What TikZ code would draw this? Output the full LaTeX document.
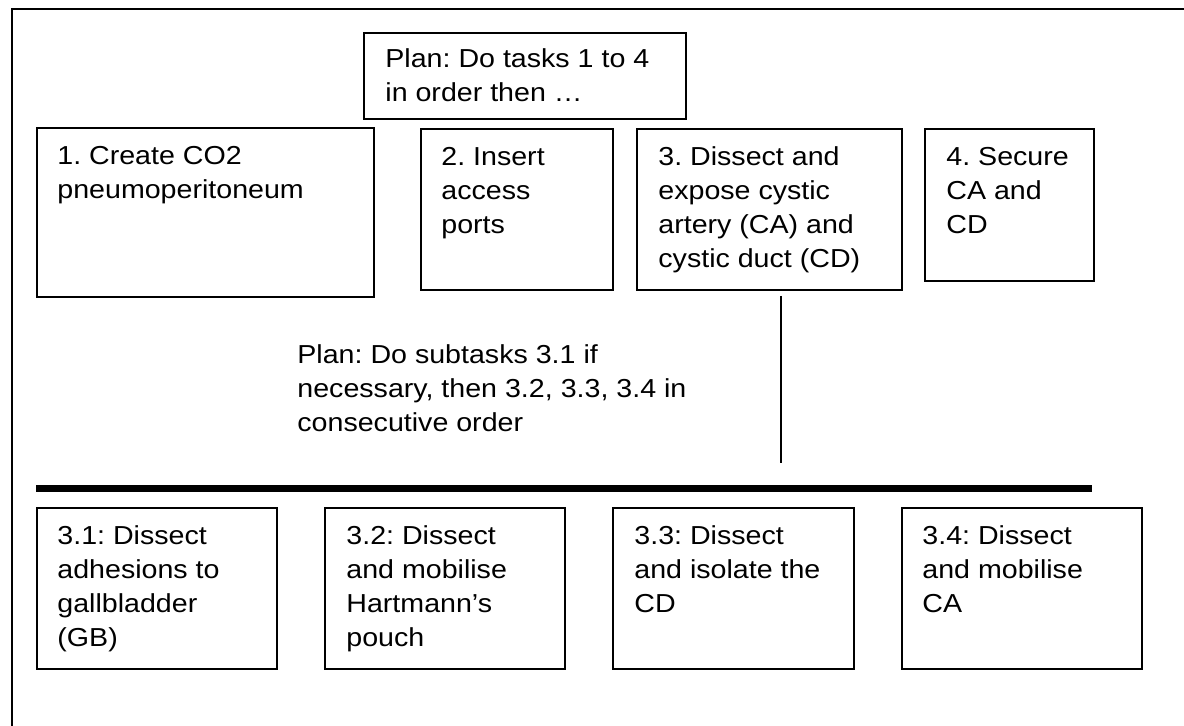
\documentclass[tikz,border=0pt]{standalone}
\usepackage{fontspec}
\setmainfont{Liberation Sans}[FakeStretch=1.1]
\usetikzlibrary{calc}
\newcommand{\txtlines}[1]{\begin{tabular}[t]{@{}l@{}}#1\end{tabular}}
\frenchspacing
\begin{document}
\begin{tikzpicture}[x=0.5pt,y=-0.5pt,
  box/.style={draw, line width=1pt, inner sep=0pt, anchor=north west},
  txt/.style={inner sep=0pt, anchor=base west, font=\fontsize{13pt}{17pt}\selectfont},
  rule/.style={line width=1pt},
  bar/.style={line width=3.5pt}]
\useasboundingbox (0,0) rectangle (1184,726);
% outer frame (top and left edges visible)
\coordinate (frameTR) at (1184,9);
\coordinate (frameTL) at (12,9);
\coordinate (frameBL) at (12,726);
\draw[rule] (frameTR) -- (frameTL) -- (frameBL);

% top plan
\node[box, minimum width=161pt, minimum height=43pt] (plan) at (363,32) {};
\node[txt] (plantxt) at ($(plan.north west)+(22,36)$) {\txtlines{Plan: Do tasks 1 to 4\\in order then …}};

% tasks
\node[box, minimum width=168.5pt, minimum height=84.5pt] (b1) at (36,127) {};
\node[txt] (b1txt) at ($(b1.north west)+(21,38)$) {\txtlines{1. Create CO2\\pneumoperitoneum}};
\node[box, minimum width=96pt, minimum height=80.5pt] (b2) at (420,128) {};
\node[txt] (b2txt) at ($(b2.north west)+(21,38)$) {\txtlines{2. Insert\\access\\ports}};
\node[box, minimum width=132.5pt, minimum height=80.5pt] (b3) at (636,128) {};
\node[txt] (b3txt) at ($(b3.north west)+(22,38)$) {\txtlines{3. Dissect and\\expose cystic\\artery (CA) and\\cystic duct (CD)}};
\node[box, minimum width=84.5pt, minimum height=76pt] (b4) at (924,128) {};
\node[txt] (b4txt) at ($(b4.north west)+(22,38)$) {\txtlines{4. Secure\\CA and\\CD}};

% sub-plan
\node[txt] (plan2) at (297,364) {\txtlines{Plan: Do subtasks 3.1 if\\necessary, then 3.2, 3.3, 3.4 in\\consecutive order}};

% connector
\coordinate (vtop) at ($(b3.south west)+(145,5)$);
\coordinate (vbot) at (781,463);
\draw[rule] (vtop) -- (vbot);
\coordinate (barL) at (36,488.5);
\coordinate (barR) at (1092,488.5);
\draw[bar] (barL) -- (barR);

% subtasks
\node[box, minimum width=120pt, minimum height=80.5pt] (s1) at (36,507) {};
\node[txt] (s1txt) at ($(s1.north west)+(21,38)$) {\txtlines{3.1: Dissect\\adhesions to\\gallbladder\\(GB)}};
\node[box, minimum width=120pt, minimum height=80.5pt] (s2) at (324,507) {};
\node[txt] (s2txt) at ($(s2.north west)+(22,38)$) {\txtlines{3.2: Dissect\\and mobilise\\Hartmann’s\\pouch}};
\node[box, minimum width=120.5pt, minimum height=80.5pt] (s3) at (612,507) {};
\node[txt] (s3txt) at ($(s3.north west)+(22,38)$) {\txtlines{3.3: Dissect\\and isolate the\\CD}};
\node[box, minimum width=120pt, minimum height=80.5pt] (s4) at (901,507) {};
\node[txt] (s4txt) at ($(s4.north west)+(21,38)$) {\txtlines{3.4: Dissect\\and mobilise\\CA}};
\end{tikzpicture}
\end{document}
